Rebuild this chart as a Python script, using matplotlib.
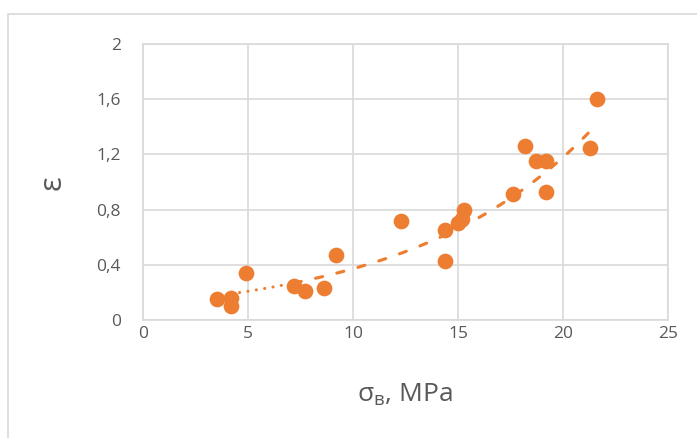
import numpy as np
import matplotlib
matplotlib.use("Agg")
import matplotlib.pyplot as plt
from matplotlib.patches import Rectangle

# Measured points: ultimate strength sigma_v (MPa) vs strain epsilon.
SIGMA = [3.5, 4.2, 4.2, 4.9, 7.2, 7.7, 8.6, 9.2, 12.3, 14.4, 14.4, 15.0,
         15.2, 15.3, 17.6, 18.2, 18.7, 19.2, 19.2, 21.3, 21.6]
EPS = [0.15, 0.16, 0.10, 0.34, 0.25, 0.21, 0.23, 0.47, 0.72, 0.65, 0.43,
       0.70, 0.73, 0.80, 0.91, 1.26, 1.15, 1.15, 0.93, 1.25, 1.60]

# Exponential trend y = A * exp(B * x).
TREND_A = 0.117
TREND_B = 0.1155
TREND_START, TREND_SPLIT, TREND_END = 4.2, 7.2, 21.3

X_TICKS = [0, 5, 10, 15, 20, 25]
Y_TICKS = [0, 0.4, 0.8, 1.2, 1.6, 2.0]
Y_TICK_LABELS = ["0", "0,4", "0,8", "1,2", "1,6", "2"]

ORANGE = "#ED7D31"
GRID = "#D9D9D9"
TEXT = "#595959"

plt.rcParams["font.family"] = ["Open Sans", "DejaVu Sans"]
plt.rcParams["mathtext.fontset"] = "custom"
plt.rcParams["mathtext.rm"] = "Open Sans"

fig = plt.figure(figsize=(6.97, 4.38), dpi=100)
ax = fig.add_axes([143 / 697, 1 - 320 / 438, 525 / 697, 276 / 438])

ax.scatter(SIGMA, EPS, s=128, color=ORANGE, linewidths=0, zorder=3)


def trend(x):
    return TREND_A * np.exp(TREND_B * x)


xd = np.linspace(TREND_START, TREND_SPLIT, 40)
ax.plot(xd, trend(xd), color=ORANGE, lw=2.25, dashes=(0.01, 2.7),
        dash_capstyle="round", zorder=4)
xs = np.linspace(TREND_SPLIT, TREND_END, 200)
ax.plot(xs, trend(xs), color=ORANGE, lw=2.25, dashes=(2.3, 4.7),
        dash_capstyle="round", zorder=4)

ax.set_xlim(0, 25)
ax.set_ylim(0, 2)
ax.set_xticks(X_TICKS, [str(t) for t in X_TICKS])
ax.set_yticks(Y_TICKS, Y_TICK_LABELS)
ax.tick_params(length=0, labelsize=12.5, labelcolor=TEXT)
ax.tick_params(axis="y", pad=16)
ax.tick_params(axis="x", pad=4)
ax.grid(color=GRID, lw=1.2)
ax.set_axisbelow(True)
for sp in ax.spines.values():
    sp.set_color(GRID)
    sp.set_linewidth(1.2)

fig.text(405 / 697, 1 - 395 / 438, r"σ$_{\mathregular{в}}$, MPa",
         ha="center", va="center", fontsize=19, color=TEXT)
fig.text(53 / 697, 1 - 183 / 438, "ε", rotation=90, ha="center",
         va="center", fontsize=22, color=TEXT)

# Outer chart border (Excel chart area frame).
fig.patches.append(Rectangle((8 / 697, -0.1), 2, 1 - 14 / 438 + 0.1,
                             transform=fig.transFigure, fill=False,
                             edgecolor=GRID, lw=1.2))

fig.savefig("out.png", dpi=100)
